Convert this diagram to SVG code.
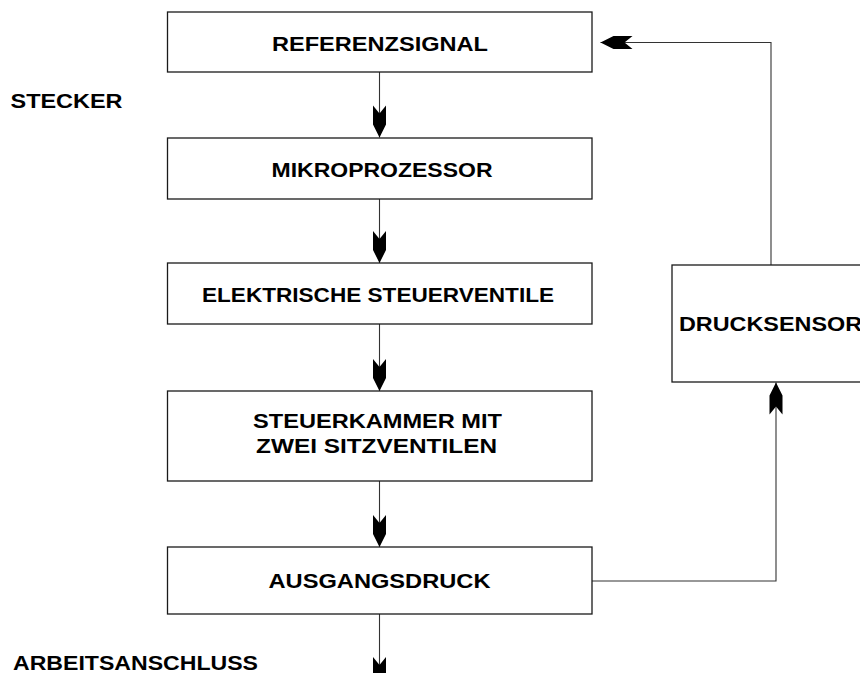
<svg xmlns="http://www.w3.org/2000/svg" width="860" height="673" viewBox="0 0 860 673">
<style>
.box{fill:#fff;stroke:#1a1a1a;stroke-width:1.3}
.lbl{font-family:"Liberation Sans",Arial,Helvetica,sans-serif;font-weight:bold;font-size:21px;fill:#000}
.con{fill:none;stroke:#333;stroke-width:1.1}
</style>
<defs>
<marker id="ah" markerUnits="userSpaceOnUse" viewBox="-33 -8 34 16" refX="0" refY="0" markerWidth="34" markerHeight="16" orient="auto">
<path d="M0,0 L-13,-6.5 L-32,-6.5 L-24,0 L-32,6.5 L-13,6.5 Z" fill="#000"/>
</marker>
</defs>
<rect width="860" height="673" fill="#fff"/>
<g id="connectors">
<line class="con" x1="379.5" y1="72" x2="379.5" y2="137.5" marker-end="url(#ah)"/>
<line class="con" x1="379.5" y1="199" x2="379.5" y2="263" marker-end="url(#ah)"/>
<line class="con" x1="379.5" y1="324" x2="379.5" y2="391" marker-end="url(#ah)"/>
<line class="con" x1="379.5" y1="481" x2="379.5" y2="547" marker-end="url(#ah)"/>
<line class="con" x1="379.5" y1="614" x2="379.5" y2="689" marker-end="url(#ah)"/>
<path class="con" d="M592,581 H776 V382.5" marker-end="url(#ah)"/>
<path class="con" d="M771,265 V42.5 H600.5" marker-end="url(#ah)"/>
</g>
<g id="referenzsignal">
<rect class="box" x="167.5" y="12" width="424.5" height="60"/>
<text class="lbl" x="272" y="51" textLength="216" lengthAdjust="spacingAndGlyphs">REFERENZSIGNAL</text>
</g>
<g id="mikroprozessor">
<rect class="box" x="167.5" y="138" width="424.5" height="61"/>
<text class="lbl" x="271.5" y="176.5" textLength="221" lengthAdjust="spacingAndGlyphs">MIKROPROZESSOR</text>
</g>
<g id="steuerventile">
<rect class="box" x="167.5" y="263" width="424.5" height="61"/>
<text class="lbl" x="202" y="302" textLength="352" lengthAdjust="spacingAndGlyphs">ELEKTRISCHE STEUERVENTILE</text>
</g>
<g id="steuerkammer">
<rect class="box" x="167.5" y="391" width="424.5" height="90"/>
<text class="lbl" x="253" y="428" textLength="249" lengthAdjust="spacingAndGlyphs">STEUERKAMMER MIT</text>
<text class="lbl" x="256" y="453" textLength="241" lengthAdjust="spacingAndGlyphs">ZWEI SITZVENTILEN</text>
</g>
<g id="ausgangsdruck">
<rect class="box" x="167.5" y="547" width="424.5" height="67"/>
<text class="lbl" x="268.5" y="588" textLength="222" lengthAdjust="spacingAndGlyphs">AUSGANGSDRUCK</text>
</g>
<g id="drucksensor">
<rect class="box" x="672" y="265" width="250" height="117"/>
<text class="lbl" x="679" y="331" textLength="183" lengthAdjust="spacingAndGlyphs">DRUCKSENSOR</text>
</g>
<g id="stecker">
<text class="lbl" x="10.5" y="108" textLength="112" lengthAdjust="spacingAndGlyphs">STECKER</text>
</g>
<g id="arbeitsanschluss">
<text class="lbl" x="13" y="670" textLength="245" lengthAdjust="spacingAndGlyphs">ARBEITSANSCHLUSS</text>
</g>
</svg>
